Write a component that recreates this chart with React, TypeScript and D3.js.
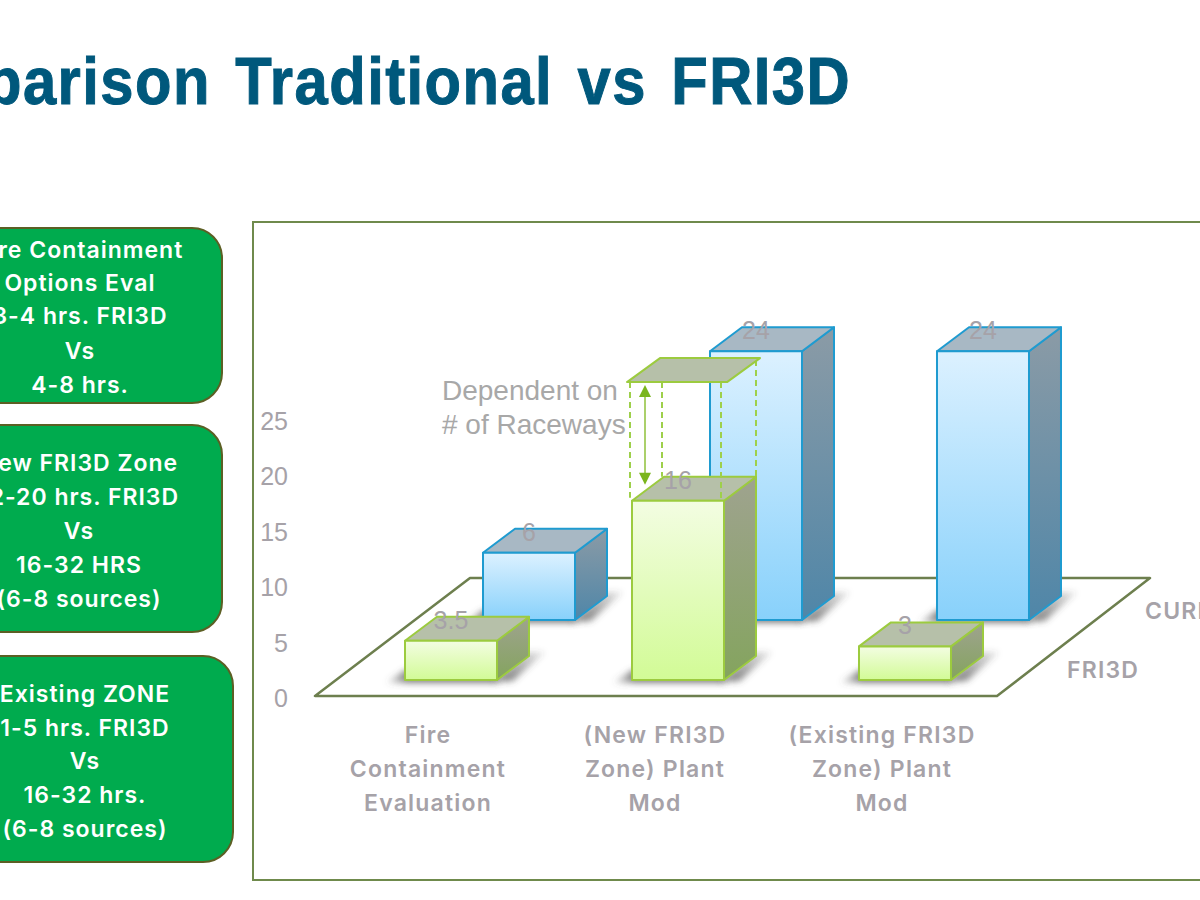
import React from 'react';
import * as d3 from 'd3';

const categories = ['Fire Containment Evaluation', '(New FRI3D Zone) Plant Mod', '(Existing FRI3D Zone) Plant Mod'];
const categoryLines = [
    ['Fire', 'Containment', 'Evaluation'],
    ['(New FRI3D', 'Zone) Plant', 'Mod'],
    ['(Existing FRI3D', 'Zone) Plant', 'Mod'],
];
const fri3dValues = [3.5, 16, 3];
const currentValues = [6, 24, 24];
const dependentTop = 26.6;
const yTicks = [0, 5, 10, 15, 20, 25];

const boxLines = [
    ['Fire Containment', 'Options Eval', '3-4 hrs. FRI3D', 'Vs', '4-8 hrs.'],
    ['New FRI3D Zone', '12-20 hrs. FRI3D', 'Vs', '16-32 HRS', '(6-8 sources)'],
    ['Existing ZONE', '1-5 hrs. FRI3D', 'Vs', '16-32 hrs.', '(6-8 sources)'],
];

const GREY = '#a6a2a8';
const SANS = '"Liberation Sans", Arial, sans-serif';
const ROUND = 'Inter, "Noto Sans", sans-serif';

const depthX = 32;
const depthY = 24;
const baseY = 680; // front row baseline
const rowDX = 78;  // back row offset
const rowDY = 60;

// value -> bar height
const h = d3.scaleLinear().domain([0, 25]).range([0, 280]);
// tick labels sit on a slightly different scale than the bars
const yAxis = d3.scaleLinear().domain([0, 25]).range([698, 421]);
const x = d3.scaleBand<string>().domain(categories).range([337.5, 1018.5]).paddingInner(0.5947).paddingOuter(0.2974);
const bw = x.bandwidth();

const poly = (pts: number[][]) => pts.map(p => p.join(',')).join(' ');

function Bar(props: { x: number; base: number; value: number; kind: 'blue' | 'green' }) {
    const { x: left, base, value, kind } = props;
    const right = left + bw;
    const top = base - h(value);
    const stroke = kind === 'blue' ? '#1f9bd0' : '#9ccb3f';
    const topFill = kind === 'blue' ? '#a8b8c4' : '#b6c0a9';
    return (
        <g strokeLinejoin="round">
            <polygon points={poly([[left - 20, base + 3], [left, base - 10], [right, base - 10], [right, base + 3]])} fill="url(#shadowLeft)" filter="url(#blur)" />
            <polygon points={poly([[right - 4, base + 2], [right + depthX - 2, base - depthY - 4], [right + depthX + 16, base - depthY - 4], [right + 16, base + 1]])} fill="url(#shadowRight)" filter="url(#blur)" />
            <polygon points={poly([[right, top], [right + depthX, top - depthY], [right + depthX, base - depthY], [right, base]])} fill={`url(#${kind}Side)`} stroke={stroke} strokeWidth={2} />
            <polygon points={poly([[left, top], [left + depthX, top - depthY], [right + depthX, top - depthY], [right, top]])} fill={topFill} stroke={stroke} strokeWidth={2} />
            <rect x={left} y={top} width={bw} height={h(value)} fill={`url(#${kind}Front)`} stroke={stroke} strokeWidth={2} />
        </g>
    );
}

function Box(props: { cx: number; right: number; top: number; bottom: number; lines: string[]; ys: number[] }) {
    const { cx, right, top, bottom, lines, ys } = props;
    const left = cx - (right - cx);
    return (
        <g>
            <rect x={left} y={top} width={right - left} height={bottom - top} rx={30} ry={30} fill="#00ab4e" stroke="#5c5f24" strokeWidth={2} />
            {lines.map((l, i) => (
                <text key={i} x={cx} y={ys[i]} textAnchor="middle" dominantBaseline="central" fill="#fff" fontFamily={ROUND} fontWeight={600} fontSize={23} letterSpacing={1}>{l}</text>
            ))}
        </g>
    );
}

export default function App() {
    const secondLeft = x(categories[1]) as number;
    const secondTop = baseY - h(fri3dValues[1]);
    const ghostTop = baseY - h(dependentTop);
    const ghostL = secondLeft - 5;
    const ghostR = secondLeft + bw + 3;
    const dashes = [
        [ghostL + 3, ghostTop, secondTop - 3],
        [ghostL + depthX + 3, ghostTop, secondTop - depthY],
        [ghostR - 6, ghostTop, secondTop],
        [ghostR + depthX - 3, ghostTop - depthY + 2, secondTop - depthY],
    ];
    const arrowX = secondLeft + 13;

    return (
        <svg width={1200} height={900} style={{ position: 'absolute', left: 0, top: 0, background: '#fff' }}>
            <defs>
                <linearGradient id="greenFront" x1="0" y1="0" x2="0" y2="1">
                    <stop offset="0" stopColor="#f3fde2" />
                    <stop offset="1" stopColor="#d2fb96" />
                </linearGradient>
                <linearGradient id="blueFront" x1="0" y1="0" x2="0" y2="1">
                    <stop offset="0" stopColor="#dcf1ff" />
                    <stop offset="1" stopColor="#88d1fb" />
                </linearGradient>
                <linearGradient id="greenSide" x1="0" y1="0" x2="0" y2="1">
                    <stop offset="0" stopColor="#9fa38f" />
                    <stop offset="1" stopColor="#84a45e" />
                </linearGradient>
                <linearGradient id="blueSide" x1="0" y1="0" x2="0" y2="1">
                    <stop offset="0" stopColor="#8b9ba6" />
                    <stop offset="1" stopColor="#4f86a8" />
                </linearGradient>
                <linearGradient id="shadowLeft" x1="0" y1="0" x2="1" y2="0">
                    <stop offset="0" stopColor="#555" stopOpacity="0" />
                    <stop offset="0.2" stopColor="#555" stopOpacity="0.75" />
                    <stop offset="1" stopColor="#555" stopOpacity="0.75" />
                </linearGradient>
                <linearGradient id="shadowRight" x1="0" y1="1" x2="1" y2="0">
                    <stop offset="0" stopColor="#444" stopOpacity="0.75" />
                    <stop offset="1" stopColor="#444" stopOpacity="0.12" />
                </linearGradient>
                <filter id="blur" x="-30%" y="-50%" width="160%" height="200%">
                    <feGaussianBlur stdDeviation="3" />
                </filter>
            </defs>

            <g transform="translate(851,104) scale(0.905,1)">
                <text textAnchor="end" fontFamily={SANS} fontWeight={700} fontSize={66} letterSpacing={1.6} wordSpacing={7} fill="#00587c" stroke="#00587c" strokeWidth={1}>Comparison Traditional vs FRI3D</text>
            </g>

            <Box cx={80} right={222} top={228} bottom={403} lines={boxLines[0]} ys={[250, 283, 316, 351, 385]} />
            <Box cx={79} right={222} top={425} bottom={632} lines={boxLines[1]} ys={[463, 497, 531, 565, 599]} />
            <Box cx={85} right={233} top={656} bottom={862} lines={boxLines[2]} ys={[694, 728, 761, 795, 829]} />

            <rect x={253} y={222} width={1000} height={658} fill="#fff" stroke="#6f8a4c" strokeWidth={2} />

            {yTicks.map(t => (
                <text key={t} x={288} y={yAxis(t)} textAnchor="end" dominantBaseline="central" fontFamily={SANS} fontSize={25} fill={GREY}>{t}</text>
            ))}

            <polygon points={poly([[315, 696], [997, 696], [1150, 578], [470, 578]])} fill="#fff" stroke="#6d7f4e" strokeWidth={2.5} strokeLinejoin="round" />

            {categories.map((c, i) => (
                <Bar key={c} x={(x(c) as number) + rowDX} base={baseY - rowDY} value={currentValues[i]} kind="blue" />
            ))}
            {categories.map((c, i) => (
                <Bar key={c} x={x(c) as number} base={baseY} value={fri3dValues[i]} kind="green" />
            ))}

            {/* dependent on # of raceways */}
            {dashes.map((d, i) => (
                <line key={i} x1={d[0]} x2={d[0]} y1={d[1]} y2={d[2]} stroke="#9ed04a" strokeWidth={2} strokeDasharray="6 4" />
            ))}
            <polygon points={poly([[ghostL, ghostTop], [ghostL + depthX + 1, ghostTop - depthY], [ghostR + depthX + 1, ghostTop - depthY], [ghostR, ghostTop]])} fill="#b6c0a9" stroke="#9ccb3f" strokeWidth={2} strokeLinejoin="round" />
            <line x1={arrowX} x2={arrowX} y1={ghostTop + 8} y2={secondTop - depthY + 2} stroke="#8fc13a" strokeWidth={1.5} />
            <polygon points={poly([[arrowX, ghostTop + 3], [arrowX - 6, ghostTop + 15], [arrowX + 6, ghostTop + 15]])} fill="#7ab51d" />
            <polygon points={poly([[arrowX, secondTop - 16], [arrowX - 6, secondTop - 28], [arrowX + 6, secondTop - 28]])} fill="#7ab51d" />
            <text fontFamily={SANS} fontSize={28} fill="#a8a8a8">
                <tspan x={442} y={400}>Dependent on</tspan>
                <tspan x={442} y={434}># of Raceways</tspan>
            </text>

            {/* data labels */}
            {categories.map((c, i) => (
                <text key={c} x={(x(c) as number) + rowDX + bw / 2} y={baseY - rowDY - h(currentValues[i]) - 21} textAnchor="middle" dominantBaseline="central" fontFamily={SANS} fontSize={25} fill={GREY}>{currentValues[i]}</text>
            ))}
            {categories.map((c, i) => (
                <text key={c} x={(x(c) as number) + bw / 2} y={baseY - h(fri3dValues[i]) - 21} textAnchor="middle" dominantBaseline="central" fontFamily={SANS} fontSize={25} fill={GREY}>{fri3dValues[i]}</text>
            ))}

            {categories.map((c, i) => (
                <g key={c}>
                    {categoryLines[i].map((l, j) => (
                        <text key={j} x={(x(c) as number) + bw / 2 - 23} y={735 + j * 34} textAnchor="middle" dominantBaseline="central" fontFamily={ROUND} fontWeight={600} fontSize={23} letterSpacing={1.2} fill={GREY}>{l}</text>
                    ))}
                </g>
            ))}

            <text x={1067} y={670} dominantBaseline="central" fontFamily={ROUND} fontWeight={600} fontSize={23} letterSpacing={1.2} fill={GREY}>FRI3D</text>
            <text x={1145} y={611} dominantBaseline="central" fontFamily={ROUND} fontWeight={600} fontSize={23} letterSpacing={1.2} fill={GREY}>CURRENT</text>
        </svg>
    );
}
